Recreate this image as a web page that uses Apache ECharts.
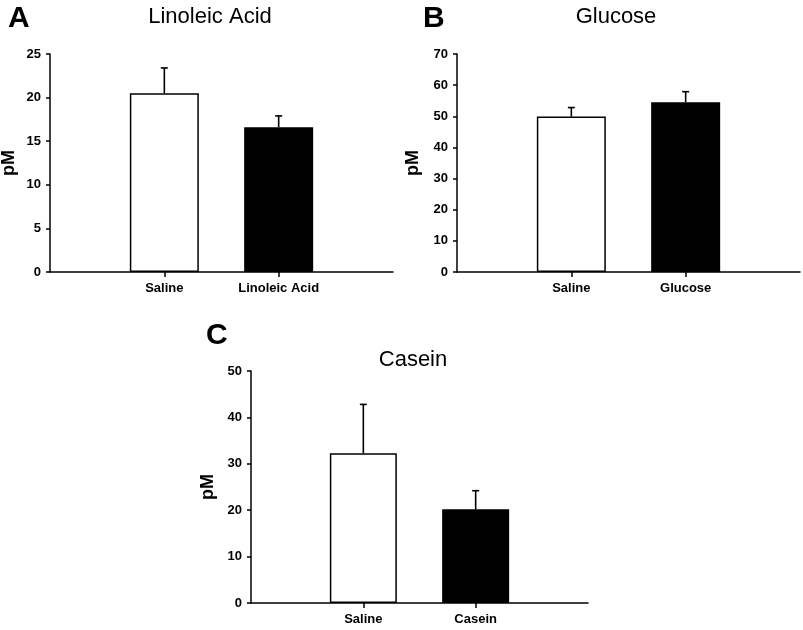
<!DOCTYPE html>
<html><head><meta charset="utf-8">
<script src="https://cdn.jsdelivr.net/npm/echarts@6/dist/echarts.min.js"></script>
<style>html,body{margin:0;padding:0;background:#fff}#c{width:803px;height:630px}</style>
</head><body><div id="c"></div>
<script>
// Panel A
const catsA = ['', 'Saline', 'Linoleic Acid', ''];
const meanA = [20.5, 16.6];
const semA = [2.9, 1.3];
const ticksA = [0, 25, 5];
// Panel B
const catsB = ['', 'Saline', 'Glucose', ''];
const meanB = [49.9, 54.5];
const semB = [2.9, 3.4];
const ticksB = [0, 70, 10];
// Panel C
const catsC = ['', 'Saline', 'Casein', ''];
const meanC = [32.3, 20.2];
const semC = [10.5, 4.0];
const ticksC = [0, 50, 10];

const FONT = '"Liberation Sans", Arial, sans-serif';
const fills = ['#ffffff', '#000000'];

function barData(mean) {
  return ['-', ...mean.map((v, i) => ({ value: v, itemStyle: { color: fills[i], borderColor: '#000', borderWidth: 1.5 } })), '-'];
}
function errData(mean, sem) {
  return mean.map((v, i) => [i + 1, v, v + sem[i]]);
}
function errRender(params, api) {
  const x = api.value(0);
  const p0 = api.coord([x, api.value(1)]);
  const p1 = api.coord([x, api.value(2)]);
  const st = { stroke: '#000', lineWidth: 1.6 };
  return { type: 'group', children: [
    { type: 'line', shape: { x1: p0[0], y1: p0[1], x2: p1[0], y2: p1[1] }, style: st },
    { type: 'line', shape: { x1: p1[0] - 3.5, y1: p1[1], x2: p1[0] + 3.5, y2: p1[1] }, style: st }
  ]};
}
function xAxis(cats, gi) {
  return {
    type: 'category', gridIndex: gi, data: cats, boundaryGap: false,
    axisLine: { lineStyle: { color: '#000', width: 1.5 } },
    axisTick: { length: 5, lineStyle: { color: '#000', width: 1.5 }, interval: (i, v) => v !== '' },
    axisLabel: { interval: 0, color: '#000', fontFamily: FONT, fontWeight: 'bold', fontSize: 13, margin: 10 }
  };
}
function yAxis(t, gi, gap) {
  return {
    type: 'value', gridIndex: gi, min: t[0], max: t[1], interval: t[2],
    name: 'pM', nameLocation: 'middle', nameGap: gap,
    nameTextStyle: { color: '#000', fontFamily: FONT, fontWeight: 'bold', fontSize: 18 },
    splitLine: { show: false },
    axisLine: { show: true, lineStyle: { color: '#000', width: 1.5 } },
    axisTick: { show: true, length: 4, lineStyle: { color: '#000', width: 1.5 } },
    axisLabel: { color: '#000', fontFamily: FONT, fontWeight: 'bold', fontSize: 13, margin: 9 }
  };
}
const titleStyle = { color: '#000', fontFamily: FONT, fontWeight: 'normal', fontSize: 22 };
const letterStyle = { color: '#000', fontFamily: FONT, fontWeight: 'bold', fontSize: 30 };

const chart = echarts.init(document.getElementById('c'), null, { renderer: 'canvas' });
chart.setOption({
  backgroundColor: '#fff',
  animation: false,
  title: [
    { text: 'Linoleic Acid', left: 205, top: 1, textAlign: 'center', textStyle: titleStyle },
    { text: 'Glucose', left: 611, top: 1, textAlign: 'center', textStyle: titleStyle },
    { text: 'Casein', left: 408, top: 344, textAlign: 'center', textStyle: titleStyle },
    { text: 'A', left: 3, top: -1, textStyle: letterStyle },
    { text: 'B', left: 418, top: -1, textStyle: letterStyle },
    { text: 'C', left: 201, top: 316, textStyle: letterStyle }
  ],
  grid: [
    { left: 50, top: 54, width: 343, height: 218, outerBoundsMode: 'none', containLabel: false },
    { left: 457, top: 54, width: 343, height: 218, outerBoundsMode: 'none', containLabel: false },
    { left: 251, top: 371, width: 337, height: 232, outerBoundsMode: 'none', containLabel: false }
  ],
  xAxis: [xAxis(catsA, 0), xAxis(catsB, 1), xAxis(catsC, 2)],
  yAxis: [yAxis(ticksA, 0, 32), yAxis(ticksB, 1, 35), yAxis(ticksC, 2, 34)],
  series: [
    { type: 'bar', xAxisIndex: 0, yAxisIndex: 0, barWidth: 69, data: barData(meanA) },
    { type: 'custom', xAxisIndex: 0, yAxisIndex: 0, renderItem: errRender, data: errData(meanA, semA), z: 1 },
    { type: 'bar', xAxisIndex: 1, yAxisIndex: 1, barWidth: 69, data: barData(meanB) },
    { type: 'custom', xAxisIndex: 1, yAxisIndex: 1, renderItem: errRender, data: errData(meanB, semB), z: 1 },
    { type: 'bar', xAxisIndex: 2, yAxisIndex: 2, barWidth: 67, data: barData(meanC) },
    { type: 'custom', xAxisIndex: 2, yAxisIndex: 2, renderItem: errRender, data: errData(meanC, semC), z: 1 }
  ]
});
</script></body></html>
